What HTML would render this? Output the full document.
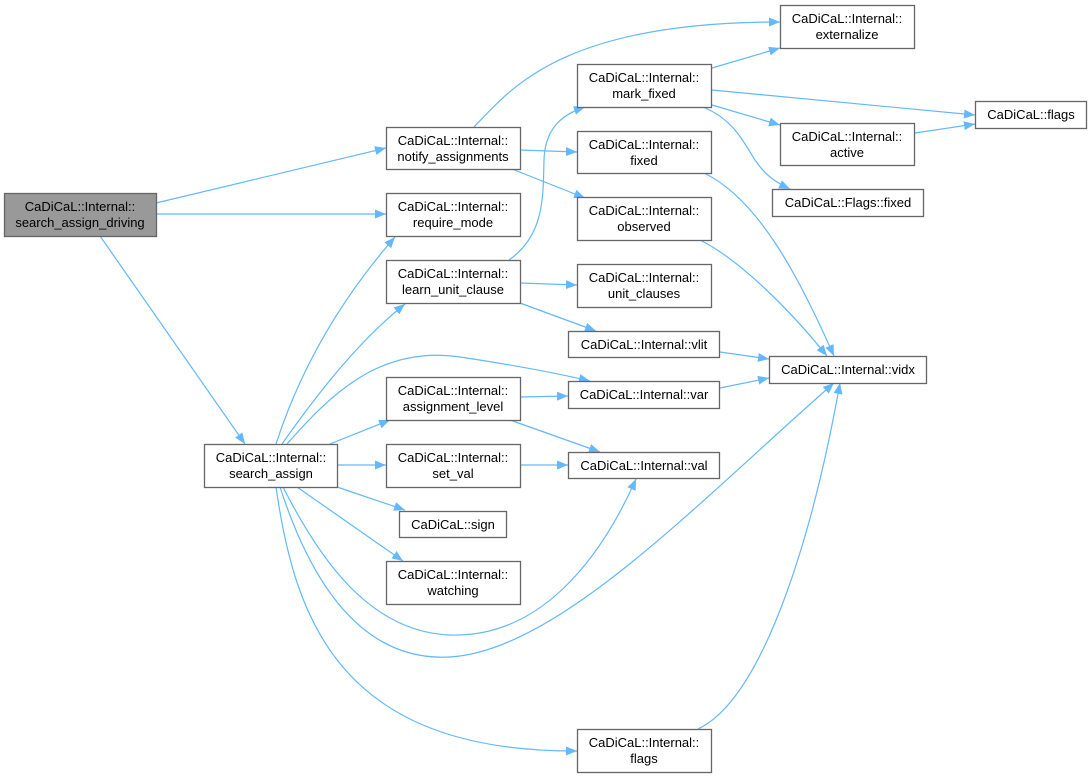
<!DOCTYPE html>
<html><head><meta charset="utf-8"><style>
html,body{margin:0;padding:0;background:#fff;}
svg{display:block;}
text{font-family:"Liberation Sans",Arial,sans-serif;font-size:13px;fill:#000;}
.n{fill:#fff;stroke:#666;stroke-width:1.3;}
.e{fill:none;stroke:#63b8ff;stroke-width:1.2;}
</style></head><body>
<svg width="1092" height="777" viewBox="0 0 1092 777" xmlns="http://www.w3.org/2000/svg">
<defs>
<marker id="a" markerUnits="userSpaceOnUse" markerWidth="12" markerHeight="10" refX="11" refY="4.5" orient="auto">
<path d="M0,0 L11,4.5 L0,9 Z" fill="#63b8ff"/>
</marker>
</defs>
<g class="e" marker-end="url(#a)">
<path d="M156,203 L386,148"/>
<path d="M156,214 L386,214"/>
<path d="M100,236 L245,444"/>
<path d="M474,127 C510,90 560,22 780,22"/>
<path d="M520,150 L577,152"/>
<path d="M512,169 L585,198"/>
<path d="M509,260 C545,235 543,195 544,160 C545,130 560,115 585,107"/>
<path d="M520,283 L577,285"/>
<path d="M520,303 L596,331"/>
<path d="M712,68 L780,48"/>
<path d="M712,90 L975,115"/>
<path d="M712,105 L780,125"/>
<path d="M703,107 C735,120 745,145 755,160 C765,175 775,182 790,189"/>
<path d="M915,133 L975,124"/>
<path d="M704,173 C760,200 800,280 834,356"/>
<path d="M700,240 C740,260 790,310 827,356"/>
<path d="M720,352 L769,359"/>
<path d="M720,388 L769,378"/>
<path d="M520,397 L568,396"/>
<path d="M510,420 L600,452"/>
<path d="M520,465 L568,465"/>
<path d="M330,444 L390,420"/>
<path d="M337,465 L386,465"/>
<path d="M337,487 L405,510"/>
<path d="M297,487 L403,561"/>
<path d="M276,444 C300,370 340,300 395,237"/>
<path d="M282,444 C320,390 360,340 405,304"/>
<path d="M287,444 C330,395 380,345 460,357 C520,366 560,374 590,381"/>
<path d="M283,487 C320,560 370,632 450,635 C540,638 600,560 636,479"/>
<path d="M280,487 C310,580 360,662 450,657 C560,650 700,500 834,383"/>
<path d="M276,487 C295,620 340,752 577,751"/>
<path d="M698,729 C760,700 810,550 840,383"/>
</g>
<rect x="4.5" y="193.5" width="152" height="43" fill="#999" stroke="#666" stroke-width="1.3"/>
<text x="80" y="211" text-anchor="middle">CaDiCaL::Internal::</text>
<text x="80" y="227" text-anchor="middle">search_assign_driving</text>

<g>
<rect class="n" x="386.5" y="127.5" width="134" height="42"/>
<text x="453" y="145" text-anchor="middle">CaDiCaL::Internal::</text>
<text x="453" y="161" text-anchor="middle">notify_assignments</text>
<rect class="n" x="386.5" y="193.5" width="134" height="43"/>
<text x="453" y="211" text-anchor="middle">CaDiCaL::Internal::</text>
<text x="453" y="227" text-anchor="middle">require_mode</text>
<rect class="n" x="386.5" y="260.5" width="134" height="43"/>
<text x="453" y="278" text-anchor="middle">CaDiCaL::Internal::</text>
<text x="453" y="294" text-anchor="middle">learn_unit_clause</text>
<rect class="n" x="386.5" y="377.5" width="134" height="43"/>
<text x="453" y="395" text-anchor="middle">CaDiCaL::Internal::</text>
<text x="453" y="411" text-anchor="middle">assignment_level</text>
<rect class="n" x="386.5" y="444.5" width="134" height="43"/>
<text x="453" y="462" text-anchor="middle">CaDiCaL::Internal::</text>
<text x="453" y="478" text-anchor="middle">set_val</text>
<rect class="n" x="399.5" y="511.5" width="107" height="26"/>
<text x="453" y="529" text-anchor="middle">CaDiCaL::sign</text>
<rect class="n" x="386.5" y="561.5" width="134" height="43"/>
<text x="453" y="579" text-anchor="middle">CaDiCaL::Internal::</text>
<text x="453" y="595" text-anchor="middle">watching</text>
<rect class="n" x="204.5" y="444.5" width="133" height="43"/>
<text x="271" y="462" text-anchor="middle">CaDiCaL::Internal::</text>
<text x="271" y="478" text-anchor="middle">search_assign</text>

<rect class="n" x="577.5" y="64.5" width="134" height="43"/>
<text x="644" y="82" text-anchor="middle">CaDiCaL::Internal::</text>
<text x="644" y="98" text-anchor="middle">mark_fixed</text>
<rect class="n" x="577.5" y="131.5" width="134" height="42"/>
<text x="644" y="149" text-anchor="middle">CaDiCaL::Internal::</text>
<text x="644" y="165" text-anchor="middle">fixed</text>
<rect class="n" x="577.5" y="197.5" width="134" height="43"/>
<text x="644" y="215" text-anchor="middle">CaDiCaL::Internal::</text>
<text x="644" y="231" text-anchor="middle">observed</text>
<rect class="n" x="577.5" y="264.5" width="134" height="43"/>
<text x="644" y="282" text-anchor="middle">CaDiCaL::Internal::</text>
<text x="644" y="298" text-anchor="middle">unit_clauses</text>
<rect class="n" x="568.5" y="331.5" width="151" height="26"/>
<text x="644" y="349" text-anchor="middle">CaDiCaL::Internal::vlit</text>
<rect class="n" x="568.5" y="381.5" width="151" height="27"/>
<text x="644" y="399" text-anchor="middle">CaDiCaL::Internal::var</text>
<rect class="n" x="568.5" y="452.5" width="151" height="26"/>
<text x="644" y="470" text-anchor="middle">CaDiCaL::Internal::val</text>
<rect class="n" x="577.5" y="729.5" width="134" height="43"/>
<text x="644" y="747" text-anchor="middle">CaDiCaL::Internal::</text>
<text x="644" y="763" text-anchor="middle">flags</text>

<rect class="n" x="780.5" y="5.5" width="134" height="43"/>
<text x="847" y="23" text-anchor="middle">CaDiCaL::Internal::</text>
<text x="847" y="39" text-anchor="middle">externalize</text>
<rect class="n" x="780.5" y="123.5" width="134" height="42"/>
<text x="847" y="141" text-anchor="middle">CaDiCaL::Internal::</text>
<text x="847" y="157" text-anchor="middle">active</text>
<rect class="n" x="772.5" y="189.5" width="151" height="27"/>
<text x="848" y="207" text-anchor="middle">CaDiCaL::Flags::fixed</text>
<rect class="n" x="769.5" y="356.5" width="157" height="27"/>
<text x="848" y="374" text-anchor="middle">CaDiCaL::Internal::vidx</text>
<rect class="n" x="975.5" y="101.5" width="111" height="27"/>
<text x="1031" y="119" text-anchor="middle">CaDiCaL::flags</text>
</g>
</svg>
</body></html>
